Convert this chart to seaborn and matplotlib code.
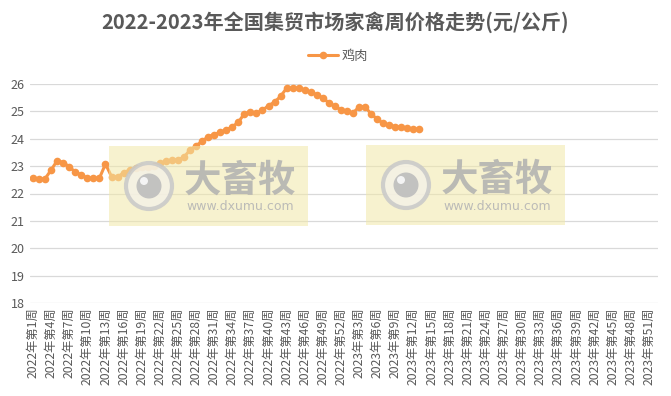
import numpy as np
import pandas as pd
import matplotlib
matplotlib.use("Agg")
import matplotlib.pyplot as plt
import seaborn as sns
from matplotlib.patches import Rectangle, Ellipse

# ---- data ----
weeks = [f"2022年第{i}周" for i in range(1, 53)] + [f"2023年第{i}周" for i in range(1, 53)]
chicken = [
    22.56, 22.52, 22.54, 22.86, 23.20, 23.13, 22.98, 22.78, 22.68, 22.56, 22.56, 22.56, 23.08, 22.62, 22.60, 22.76,
    22.86, 22.92, 22.95, 22.98, 23.02, 23.10, 23.17, 23.22, 23.23, 23.33,
    23.59, 23.75, 23.90, 24.08, 24.15, 24.24, 24.32, 24.44, 24.60,
    24.92, 24.96, 24.94, 25.04, 25.21, 25.34, 25.55, 25.85, 25.86, 25.85,
    25.77, 25.70, 25.61, 25.49, 25.31, 25.19, 25.05,
    25.00, 24.94, 25.17, 25.17, 24.90, 24.72, 24.56, 24.50, 24.44, 24.42, 24.38, 24.35, 24.35,
]
series_name = "鸡肉"
title = "2022-2023年全国集贸市场家禽周价格走势(元/公斤)"
yticks = [18, 19, 20, 21, 22, 23, 24, 25, 26]

vals = chicken + [np.nan] * (len(weeks) - len(chicken))
df = pd.DataFrame({"pos": np.arange(len(weeks)), "week": weeks, "price": vals})

sns.set_theme(style="white")
plt.rcParams["font.family"] = ["Noto Sans CJK SC", "DejaVu Sans"]

W, H = 671, 396
fig = plt.figure(figsize=(W / 100, H / 100), dpi=100)
ax = fig.add_axes([30 / W, 1 - 303 / H, 628 / W, 219 / H])

orange = "#F79646"
gray_txt = "#595959"
sns.lineplot(data=df, x="pos", y="price", ax=ax, color=orange, linewidth=2.2,
             marker="o", markersize=5.5, markeredgewidth=0, label=series_name, zorder=3)

ax.set_xlim(-0.5, len(weeks) - 0.5)
ax.set_ylim(min(yticks), max(yticks))
ax.set_yticks(yticks)
ax.set_yticklabels([str(t) for t in yticks], fontsize=9, color=gray_txt)
tick_pos = list(range(0, len(weeks), 3))
ax.set_xticks(tick_pos)
ax.set_xticklabels([weeks[i] for i in tick_pos], rotation=90, fontsize=8.8, color=gray_txt,
                   va="top", ha="center")
ax.tick_params(axis="both", length=0, pad=4)
ax.tick_params(axis="x", pad=3)
ax.set_xlabel("")
ax.set_ylabel("")
ax.grid(axis="y", color="#D9D9D9", linewidth=0.9)
ax.set_axisbelow(True)
for s in ax.spines.values():
    s.set_visible(False)

leg = ax.legend(loc="center", bbox_to_anchor=(338 / W, 1 - 56 / H), bbox_transform=fig.transFigure,
                frameon=False, fontsize=9.5, handlelength=2.3, handletextpad=0.3)
for t in leg.get_texts():
    t.set_color(gray_txt)

fig.text(335 / W, 1 - 22 / H, title, ha="center", va="center", fontsize=14.5,
         fontweight="bold", color=gray_txt)

# ---- watermarks ----
def fx(px):
    return px / W

def fy(py):
    return 1 - py / H

def watermark(x0, y0):
    fig.patches.append(Rectangle((fx(x0), fy(y0 + 80)), 199 / W, 80 / H, transform=fig.transFigure,
                                 facecolor="#F2E9A8", alpha=0.55, edgecolor="none", zorder=10))
    cx, cy = x0 + 40, y0 + 40
    fig.patches.append(Ellipse((fx(cx), fy(cy)), 46 / W, 46 / H, transform=fig.transFigure,
                               facecolor="#F4F1E6", edgecolor="#C8C8C8", linewidth=3, alpha=0.85, zorder=11))
    fig.patches.append(Ellipse((fx(cx), fy(cy)), 25 / W, 25 / H, transform=fig.transFigure,
                               facecolor="#BDBDBD", edgecolor="none", alpha=0.9, zorder=12))
    fig.patches.append(Ellipse((fx(cx - 5), fy(cy - 5)), 8 / W, 8 / H, transform=fig.transFigure,
                               facecolor="#F4F4F4", edgecolor="none", zorder=13))
    fig.text(fx(x0 + 131), fy(y0 + 34), "大畜牧", ha="center", va="center", fontsize=27,
             fontweight="bold", color="#B0B0B0", alpha=0.85, zorder=12)
    fig.text(fx(x0 + 131), fy(y0 + 61), "www.dxumu.com", ha="center", va="center", fontsize=9,
             color="#B5B5B5", alpha=0.9, zorder=12, family=["DejaVu Sans"])

watermark(109, 146)
watermark(366, 145)

fig.savefig("out.png", dpi=100, facecolor="white")
